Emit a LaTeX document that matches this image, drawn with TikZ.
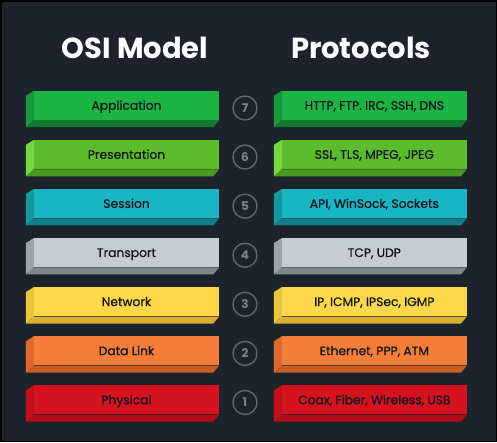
\documentclass[tikz,border=0pt]{standalone}
\usepackage{fontspec}
\setmainfont{Poppins}
\newfontfamily\boxfont{Poppins}[FakeBold=0.7]
\usetikzlibrary{calc}
\begin{document}
\begin{tikzpicture}[x=1pt,y=-1pt]
\definecolor{bgc}{HTML}{1E222B}
\definecolor{txc}{HTML}{14171C}
\definecolor{circc}{HTML}{60656E}
\definecolor{numc}{HTML}{7C818A}
\definecolor{fA}{HTML}{1DB446}\definecolor{sA}{HTML}{179A3C}\definecolor{bA}{HTML}{12782F}
\definecolor{fB}{HTML}{5CBC2E}\definecolor{sB}{HTML}{74D83E}\definecolor{bB}{HTML}{4A9826}
\definecolor{fC}{HTML}{17B6C2}\definecolor{sC}{HTML}{1498A2}\definecolor{bC}{HTML}{117F88}
\definecolor{fD}{HTML}{C6CBD4}\definecolor{sD}{HTML}{9EA3AC}\definecolor{bD}{HTML}{80868F}
\definecolor{fE}{HTML}{FCD84A}\definecolor{sE}{HTML}{EBC53E}\definecolor{bE}{HTML}{D9B131}
\definecolor{fF}{HTML}{F47D3A}\definecolor{sF}{HTML}{E06A2A}\definecolor{bF}{HTML}{C95F25}
\definecolor{fG}{HTML}{D5121F}\definecolor{sG}{HTML}{C50E1B}\definecolor{bG}{HTML}{AE0E19}
\tikzset{
  title/.style={text=white,font=\fontsize{29}{32}\selectfont\bfseries,inner sep=0pt},
  frontface/.style={rectangle,inner sep=0pt,minimum height=29,text=txc,
    text height=10pt,text depth=1.5pt,
    font=\boxfont\fontsize{12.3}{14}\selectfont},
  leftbox/.style={frontface,minimum width=185},
  rightbox/.style={frontface,minimum width=184.7},
  numcirc/.style={circle,draw=circc,line width=1.4pt,minimum size=24,inner sep=0pt,
    text=numc,font=\fontsize{12}{14}\selectfont\bfseries},
}
\fill[black] (0,0) rectangle (497,442);
\fill[bgc] (1.5,1.5) rectangle (495.5,440.5);
\useasboundingbox (0,0) rectangle (497,442);
\node[title] (t1) at (135,47.5) {OSI Model};
\node[title] (t2) at (361,47.5) {Protocols};
\foreach \i/\c/\l/\p in {1/A/Application/{HTTP, FTP. IRC, SSH, DNS},
  2/B/Presentation/{SSL, TLS, MPEG, JPEG},
  3/C/Session/{API, WinSock, Sockets},
  4/D/Transport/{TCP, UDP},
  5/E/Network/{IP, ICMP, IPSec, IGMP},
  6/F/Data Link/{Ethernet, PPP, ATM},
  7/G/Physical/{Coax, Fiber, Wireless, USB}}{
  \pgfmathsetmacro{\cy}{105.5+(\i-1)*49.08}
  \pgfmathtruncatemacro{\n}{8-\i}
  \node[leftbox,fill=f\c] (L\i) at (126.5,\cy) {\l};
  \node[rightbox,fill=f\c] (R\i) at (374.35,\cy) {\p};
  \foreach \b in {L\i,R\i}{
    \fill[s\c] (\b.north west) -- (\b.south west) -- ++(-8,7) -- ($(\b.north west)+(-8,5)$) -- cycle;
    \fill[b\c] (\b.south west) -- (\b.south east) -- ++(-6,7) -- ($(\b.south west)+(-8,7)$) -- cycle;
  }
  \node[numcirc] (N\i) at (245,\cy+2.5) {\n};
}
\end{tikzpicture}
\end{document}
